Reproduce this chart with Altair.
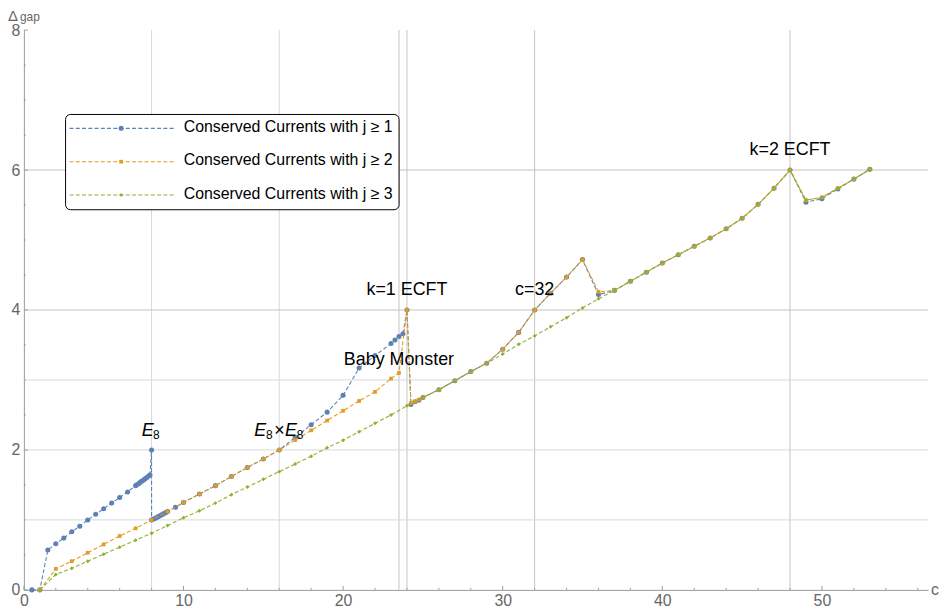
import altair as alt
import pandas as pd

FONT = "Liberation Sans"

# ---------------- data ----------------
# j >= 1 (blue)
c_j1 = [0.5, 1, 1.5, 2, 2.5, 3, 3.5, 4, 4.5, 5, 5.5, 6, 6.5, 7,
        7.1, 7.2, 7.3, 7.4, 7.5, 7.6, 7.7, 7.8, 7.9, 8, 8,
        8.1, 8.2, 8.3, 8.4, 8.5, 8.6, 8.7, 8.8, 8.9, 9, 9.5, 10,
        11, 12, 13, 14, 15, 16, 17, 18, 19, 20, 21, 22, 23,
        23.25, 23.5, 23.75, 24, 24.25, 24.5, 24.75, 25,
        26, 27, 28, 29, 30, 31, 32, 33, 34, 35, 36,
        37, 38, 39, 40, 41, 42, 43, 44, 45, 46, 47, 48,
        49, 50, 51, 52, 53]
d_j1 = [0, 0, 0.57, 0.66, 0.74, 0.83, 0.91, 1.0, 1.08, 1.16, 1.24, 1.32, 1.40, 1.49,
        1.505, 1.52, 1.54, 1.555, 1.57, 1.59, 1.605, 1.625, 1.645, 2.0, 1.0,
        1.01, 1.02, 1.03, 1.045, 1.055, 1.07, 1.08, 1.095, 1.105, 1.12, 1.18, 1.25,
        1.37, 1.49, 1.62, 1.75, 1.87, 2.0, 2.18, 2.36, 2.54, 2.78, 3.17, 3.35, 3.52,
        3.57, 3.62, 3.66, 4.0, 2.65, 2.69, 2.71, 2.75,
        2.86, 2.99, 3.12, 3.24, 3.44, 3.68, 4.0, 4.24, 4.47, 4.72, 4.22,
        4.28, 4.41, 4.54, 4.67, 4.79, 4.91, 5.03, 5.16, 5.31, 5.51, 5.74, 6.0,
        5.54, 5.59, 5.73, 5.87, 6.01]

# j >= 2 (orange)
c_j2 = [1, 2, 3, 4, 5, 6, 7, 8, 9, 10, 11, 12, 13, 14, 15, 16, 17, 18, 19, 20,
        21, 22, 23, 23.5, 24, 24.25, 24.5, 24.75, 25,
        26, 27, 28, 29, 30, 31, 32, 33, 34, 35, 36,
        37, 38, 39, 40, 41, 42, 43, 44, 45, 46, 47, 48,
        49, 50, 51, 52, 53]
d_j2 = [0, 0.30, 0.41, 0.53, 0.65, 0.77, 0.88, 1.0, 1.12, 1.25, 1.37, 1.49, 1.62, 1.75,
        1.87, 2.0, 2.14, 2.28, 2.42, 2.56,
        2.70, 2.83, 3.02, 3.10, 4.0, 2.67, 2.69, 2.72, 2.75,
        2.86, 2.99, 3.12, 3.24, 3.44, 3.68, 4.0, 4.24, 4.47, 4.72, 4.26,
        4.28, 4.41, 4.54, 4.67, 4.79, 4.91, 5.03, 5.16, 5.31, 5.51, 5.74, 6.0,
        5.57, 5.61, 5.74, 5.87, 6.01]

# j >= 3 (green)
c_j3 = [1, 2, 3, 4, 5, 6, 7, 8, 9, 10, 11, 12, 13, 14, 15, 16, 17, 18, 19, 20,
        21, 22, 23, 24, 25, 26, 27, 28, 29, 30, 31, 32, 33, 34, 35, 36,
        37, 38, 39, 40, 41, 42, 43, 44, 45, 46, 47, 48,
        49, 50, 51, 52, 53]
d_j3 = [0, 0.22, 0.31, 0.41, 0.51, 0.61, 0.71, 0.81, 0.92, 1.03, 1.13, 1.24, 1.36, 1.47,
        1.58, 1.69, 1.80, 1.91, 2.03, 2.14,
        2.26, 2.38, 2.50, 2.63, 2.75, 2.86, 2.99, 3.12, 3.24, 3.37, 3.51, 3.63, 3.76,
        3.89, 4.03, 4.16,
        4.28, 4.41, 4.54, 4.67, 4.79, 4.91, 5.03, 5.16, 5.31, 5.51, 5.74, 6.0,
        5.57, 5.61, 5.74, 5.87, 6.01]

series_names = ["Conserved Currents with j \u2265 1",
                "Conserved Currents with j \u2265 2",
                "Conserved Currents with j \u2265 3"]
series_colors = ["#5E81B5", "#E19C24", "#8FB032"]
series_shapes = ["circle", "square", "diamond"]
series_sizes = [26, 14, 16]
series_c = [c_j1, c_j2, c_j3]
series_d = [d_j1, d_j2, d_j3]

# grid lines and ticks
grid_c_light = [8, 16]
grid_c_dark = [23.5, 24, 32, 48]
grid_d_light = [1, 2, 3]
grid_d_dark = [4, 6]
x_major = [0, 10, 20, 30, 40, 50]
x_minor = [2, 4, 6, 8, 12, 14, 16, 18, 22, 24, 26, 28, 32, 34, 36, 38,
           42, 44, 46, 48, 52, 54, 56]
y_major = [0, 2, 4, 6, 8]
y_minor = [0.5, 1, 1.5, 2.5, 3, 3.5, 4.5, 5, 5.5, 6.5, 7, 7.5]

# annotations
ann_labels = ["k=1 ECFT", "Baby Monster", "c=32", "k=2 ECFT"]
ann_c = [24, 23.5, 32, 48]
ann_d = [4.21, 3.21, 4.21, 6.21]

# ---------------- chart ----------------
W, H = 911, 564
xs = alt.Scale(domain=[0, 56.65], nice=False, zero=False)
ys = alt.Scale(domain=[0, 8], nice=False, zero=False)
AX_COL = "#9a9a9a"
LAB_COL = "#666666"
ax_x = alt.Axis(values=x_major, title=None, grid=False, ticks=False,
                domainColor=AX_COL, domainWidth=1, labelFont=FONT,
                labelFontSize=16, labelColor=LAB_COL, labelPadding=3,
                labelFlush=False, labelOverlap=False)
ax_y = alt.Axis(values=y_major, title=None, grid=False, ticks=False,
                domainColor=AX_COL, domainWidth=1, labelFont=FONT,
                labelFontSize=16, labelColor=LAB_COL, labelPadding=4,
                labelFlush=False, labelOverlap=False)


def X(f):
    return alt.X(f, scale=xs, axis=ax_x)


def Y(f):
    return alt.Y(f, scale=ys, axis=ax_y)


one = pd.DataFrame({"k": [0]})
layers = []

# grid
for vals, col in [(grid_c_light, "#d9d9d9"), (grid_c_dark, "#c4c4c4")]:
    layers.append(alt.Chart(pd.DataFrame({"v": vals})).mark_rule(color=col, strokeWidth=1)
                  .encode(x=X("v:Q")))
for vals, col in [(grid_d_light, "#d9d9d9"), (grid_d_dark, "#c4c4c4")]:
    layers.append(alt.Chart(pd.DataFrame({"v": vals})).mark_rule(color=col, strokeWidth=1)
                  .encode(y=Y("v:Q")))

# inward ticks
for vals, ln in [(x_major, 4), (x_minor, 2)]:
    layers.append(alt.Chart(pd.DataFrame({"v": vals})).mark_rule(color=AX_COL, strokeWidth=1)
                  .encode(x=X("v:Q"), y=alt.value(H), y2=alt.value(H - ln)))
for vals, ln in [(y_major, 4), (y_minor, 2)]:
    layers.append(alt.Chart(pd.DataFrame({"v": vals})).mark_rule(color=AX_COL, strokeWidth=1)
                  .encode(y=Y("v:Q"), x=alt.value(0), x2=alt.value(ln)))

# data series
for name, col, shp, sz, cs, ds in zip(series_names, series_colors, series_shapes,
                                      series_sizes, series_c, series_d):
    df = pd.DataFrame({"c": cs, "d": ds, "i": list(range(len(cs)))})
    base = alt.Chart(df)
    layers.append(base.mark_line(color=col, strokeWidth=1.1, strokeDash=[4, 2.3])
                  .encode(x=X("c:Q"), y=Y("d:Q"), order="i:Q"))
    layers.append(base.mark_point(filled=True, color=col, shape=shp, size=sz, opacity=1)
                  .encode(x=X("c:Q"), y=Y("d:Q")))

# annotations
ann_df = pd.DataFrame({"label": ann_labels, "c": ann_c, "d": ann_d})
layers.append(alt.Chart(ann_df).mark_text(font=FONT, fontSize=18, color="black",
                                          align="center", baseline="alphabetic")
              .encode(x=X("c:Q"), y=Y("d:Q"), text="label:N"))

e8_pieces = [  # (c anchor, text, dx, dy, size, italic)
    (8, "E", -10, 0, 18, True), (8, "8", 1.5, 3.5, 12, False),
    (16, "E", -25.3, 0, 18, True), (16, "8", -13.3, 3.5, 12, False),
    (16, "\u00d7", -5, 0, 18, False), (16, "E", 5.7, 0, 18, True),
    (16, "8", 17.7, 3.5, 12, False),
]
for ca, t, dx, dy, fs, it in e8_pieces:
    kw = dict(font=FONT, fontSize=fs, color="black", align="left",
              baseline="alphabetic", dx=dx, dy=dy, text=t)
    if it:
        kw["fontStyle"] = "italic"
    layers.append(alt.Chart(pd.DataFrame({"c": [ca], "d": [2.2]})).mark_text(**kw)
                  .encode(x=X("c:Q"), y=Y("d:Q")))

# legend box
layers.append(alt.Chart(one).mark_rect(fill="white", stroke="black", strokeWidth=1,
                                       cornerRadius=5)
              .encode(x=alt.value(42), x2=alt.value(378), y=alt.value(85), y2=alt.value(181)))
for i, (name, col, shp, sz) in enumerate(zip(series_names, series_colors, series_shapes,
                                             series_sizes)):
    yp = 99 + i * 33.6
    layers.append(alt.Chart(one).mark_rule(color=col, strokeWidth=1.1, strokeDash=[4, 2.3])
                  .encode(x=alt.value(46), x2=alt.value(151), y=alt.value(yp)))
    layers.append(alt.Chart(one).mark_point(filled=True, color=col, shape=shp, size=sz,
                                            opacity=1)
                  .encode(x=alt.value(98), y=alt.value(yp)))
    layers.append(alt.Chart(one).mark_text(font=FONT, fontSize=16, color="black",
                                           align="left", baseline="middle", dy=-1.5,
                                           text=name)
                  .encode(x=alt.value(161), y=alt.value(yp)))

# axis labels (Δgap and c)
layers.append(alt.Chart(one).mark_text(font=FONT, fontSize=15, color=LAB_COL, align="left",
                                       baseline="alphabetic", text="\u0394")
              .encode(x=alt.value(-16), y=alt.value(-9)))
layers.append(alt.Chart(one).mark_text(font=FONT, fontSize=12, color=LAB_COL, align="left",
                                       baseline="alphabetic", text="gap")
              .encode(x=alt.value(-4), y=alt.value(-9)))
layers.append(alt.Chart(one).mark_text(font=FONT, fontSize=16, color=LAB_COL, align="left",
                                       baseline="middle", text="c")
              .encode(x=alt.value(W + 3), y=alt.value(H)))

chart = (alt.layer(*layers)
         .properties(width=W, height=H,
                     autosize=alt.AutoSizeParams(type="none"),
                     padding={"left": 16, "top": 20, "right": 11, "bottom": 18},
                     background="white")
         .configure_view(stroke=None))

chart.save("out.html", embed_options={"renderer": "svg", "actions": False})
